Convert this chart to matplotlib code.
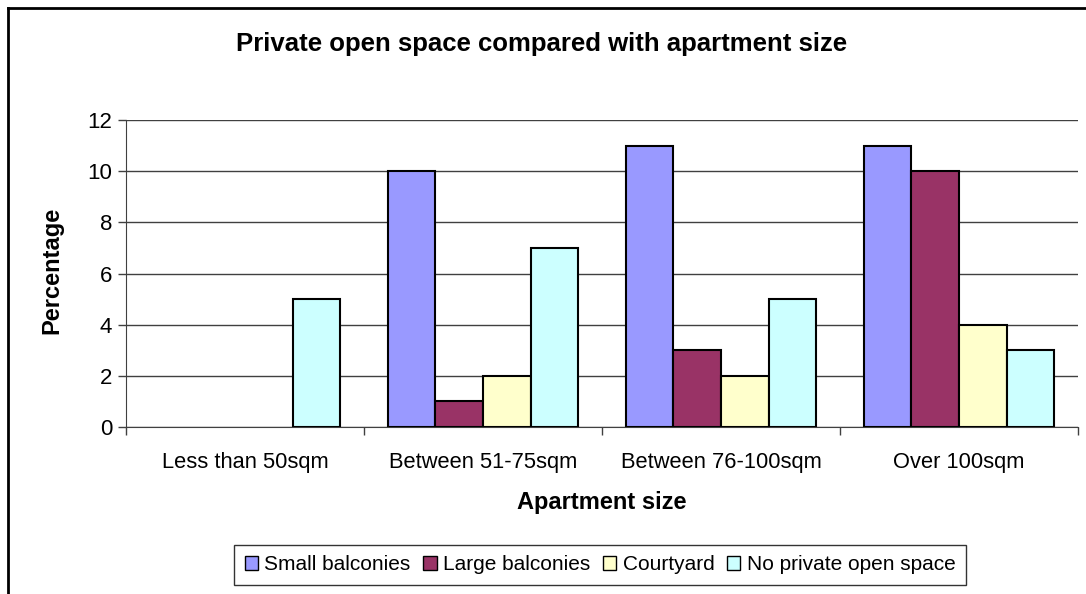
import matplotlib
matplotlib.use('Agg')
from matplotlib import pyplot as plt
from matplotlib.lines import Line2D
import numpy as np

plt.rcParams['font.family'] = ['Liberation Sans', 'DejaVu Sans']

categories = ['Less than 50sqm', 'Between 51-75sqm', 'Between 76-100sqm', 'Over 100sqm']
series_names = ['Small balconies', 'Large balconies', 'Courtyard', 'No private open space']
small_balconies = [0, 10, 11, 11]
large_balconies = [0, 1, 3, 10]
courtyard = [0, 2, 2, 4]
no_private = [5, 7, 5, 3]
colors = ['#9999FF', '#993366', '#FFFFCC', '#CCFFFF']

fig = plt.figure(figsize=(10.86, 5.94), dpi=100)
ax = fig.add_axes([126 / 1086, 1 - 427 / 594, (1078 - 126) / 1086, (427 - 120) / 594])

x = np.arange(len(categories))
width = 0.2
all_series = [small_balconies, large_balconies, courtyard, no_private]
for i, (vals, name, col) in enumerate(zip(all_series, series_names, colors)):
    offs = (i - 1.5) * width
    v = np.array(vals, dtype=float)
    # Excel draws nothing for a zero value, so no outline there
    lw = [1.5 if val > 0 else 0 for val in vals]
    ax.bar(x + offs, v, width, color=col, edgecolor='black', linewidth=lw,
           label=name, zorder=3)

ax.set_xlim(-0.5, len(categories) - 0.5)
ax.set_ylim(0, 12)
ax.set_yticks(np.arange(0, 13, 2))
ax.yaxis.grid(True, color='#404040', linewidth=1.0, zorder=0)
ax.set_axisbelow(True)

ax.set_xticks(x)
ax.set_xticklabels(categories, fontsize=15.75)
ax.set_xticks(np.arange(-0.5, len(categories), 1), minor=True)
ax.tick_params(axis='x', which='major', length=0, pad=18)
ax.tick_params(axis='x', which='minor', length=6, width=1, color='#404040', direction='out')
ax.tick_params(axis='y', length=6, width=1, color='#404040', labelsize=16, pad=4)

for side in ['top', 'right']:
    ax.spines[side].set_visible(False)
ax.spines['left'].set_color('#404040')
ax.spines['bottom'].set_color('#404040')

fig.text(542 / 1086, 1 - 44 / 594, 'Private open space compared with apartment size',
         ha='center', va='center', fontsize=18.5, fontweight='bold')
fig.text(602 / 1086, 1 - 502 / 594, 'Apartment size', ha='center', va='center',
         fontsize=17, fontweight='bold')
fig.text(52 / 1086, 1 - 270 / 594, 'Percentage', ha='center', va='center',
         rotation=90, fontsize=17, fontweight='bold')

leg = fig.legend(loc='center', bbox_to_anchor=(600 / 1086, 1 - 565 / 594), ncol=4,
                 fontsize=15, frameon=True, fancybox=False, handlelength=0.65,
                 handleheight=0.65, handletextpad=0.3, columnspacing=0.6,
                 borderpad=0.5)
leg.get_frame().set_edgecolor('black')
leg.get_frame().set_linewidth(1.0)
for h in leg.legend_handles:
    h.set_linewidth(1.0)

# outer chart border (cropped on the right and bottom)
fig.add_artist(Line2D([8 / 1086, 1], [1 - 8 / 594, 1 - 8 / 594], color='black',
                      linewidth=2, transform=fig.transFigure))
fig.add_artist(Line2D([8 / 1086, 8 / 1086], [1 - 8 / 594, 0], color='black',
                      linewidth=2, transform=fig.transFigure))

fig.savefig('out.png', dpi=100)
